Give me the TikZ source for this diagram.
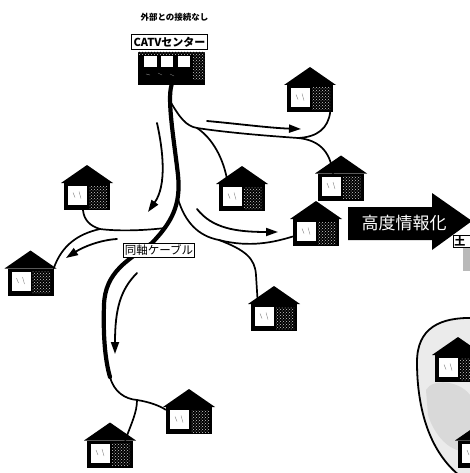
\documentclass[tikz,border=0pt]{standalone}
\usepackage{fontspec}
\setmainfont{Noto Sans CJK JP}
\usetikzlibrary{arrows.meta, positioning, backgrounds, patterns}

\begin{document}
\begin{tikzpicture}[x=1pt, y=-1pt, >={Triangle[length=12pt, width=8pt]},
  cable/.style={line width=1.7pt, line cap=round},
  trunk/.style={line width=4.2pt, line cap=round},
  flow/.style={->, line width=1.8pt, line cap=round},
  stipple/.style={pattern=crosshatch dots, pattern color=white!80!black},
  tag/.style={draw, fill=white, line width=0.9pt},
  house/.pic={
    \node[fill=black, minimum width=46pt, minimum height=27pt, inner sep=0pt] (-body) at (0,0) {};
    \fill (-26,-13.5) -- (0,-31.5) -- (26,-13.5) -- cycle;
    \fill[white] (-19,-10.5) rectangle (0,8.5);
    \fill[stipple] (2,-10.5) rectangle (20,11.5);
    \draw[gray, line width=0.4pt] (-14,-4) -- (-12,1) (-8,-5) -- (-6,2);
  }]
\useasboundingbox (0,0) rectangle (470,473);
\clip (0,0) rectangle (470,473);

% Service area on the right
\fill[gray!16] (474,318) .. controls (440,317) and (417,328) .. (417,362) .. controls (417,410) and (430,452) .. (460,476) -- (474,476) -- cycle;
\fill[gray!30] (426,390) .. controls (432,378) and (462,380) .. (472,398) -- (472,450) .. controls (455,456) and (436,440) .. (428,415) -- cycle;
\draw[line width=1.8pt] (474,318) .. controls (440,317) and (417,328) .. (417,362) .. controls (417,410) and (430,452) .. (460,476);

% Head end
\node[fill=black, minimum width=67pt, minimum height=33pt, inner sep=0pt] (catv) at (171.5,68.5) {};
\fill[stipple] (138,52) rectangle (205,55);
\foreach \wx/\ww in {144/13, 161/12, 178/12}
  \fill[white] (\wx,56) rectangle ++(\ww,11);
\fill[stipple] (193,56) rectangle (204,80);
\draw[gray, line width=0.4pt] (146,74) -- (150,75) (158,73) -- (162,75) (170,74) -- (174,76);
\node[tag, line width=1.1pt, inner sep=2.5pt, font=\bfseries\fontsize{11}{11}\selectfont, above=1.5pt of catv, xshift=-2pt] (catvlabel) {CATVセンター};
\node[font=\bfseries\fontsize{8.5}{9}\selectfont, above=9pt of catvlabel, xshift=5pt] (closed) {外部との接続なし};

% Houses
\pic (h1) at (310,98.5) {house};
\pic (h2) at (341,187) {house};
\pic (h3) at (242,197.5) {house};
\pic (h4) at (87,196.5) {house};
\pic (h5) at (316,232.5) {house};
\pic (h6) at (30.5,282) {house};
\pic (h7) at (274,317.5) {house};
\pic (h8) at (189,420.5) {house};
\pic (h9) at (110,454) {house};
\pic (h10) at (458,368.5) {house};
\pic (h11) at (481,454) {house};

% Junctions
\coordinate (j1) at (170,101);
\coordinate (j3) at (197,128);
\coordinate (j2) at (298,138);
\coordinate (j6) at (178,199);
\coordinate (j4) at (219,240);
\coordinate (j7) at (165,228);
\coordinate (j5) at (100,229);
\coordinate (jm) at (110,377);
\coordinate (jb) at (137,400);

\begin{pgfonlayer}{background}
% Coaxial trunk
\draw[trunk] (catv.south) .. controls (167,100) and (174,140) .. (178,175)
  .. controls (181,205) and (172,222) .. (152,243)
  .. controls (128,260) and (105,272) .. (104,305)
  .. controls (103,335) and (105,360) .. (jm);
% Branch lines
\draw[cable] (j1) .. controls (180,118) and (186,126) .. (j3)
  .. controls (230,133) and (270,136) .. (j2)
  .. controls (318,140) and (330,150) .. ([xshift=-8pt]h2-body.north);
\draw[cable] (j2) .. controls (318,137) and (328,128) .. ([xshift=-3pt]h1-body.south east);
\draw[cable] (j3) .. controls (212,138) and (224,158) .. ([xshift=9pt]h3-body.north west);
\draw[cable] (j6) .. controls (185,222) and (198,236) .. (j4)
  .. controls (250,248) and (275,242) .. ([yshift=-4pt]h5-body.west);
\draw[cable] (j4) .. controls (245,250) and (255,258) .. (256,275) -- ([xshift=7pt]h7-body.north west);
\draw[cable] (j7) .. controls (140,231) and (115,231) .. (j5)
  .. controls (90,226) and (84,220) .. ([xshift=-4pt]h4-body.south);
\draw[cable] (j5) .. controls (78,234) and (62,245) .. (h6-body.north east);
\draw[cable] (jm) .. controls (114,392) and (125,399) .. (jb)
  .. controls (150,402) and (160,406) .. ([yshift=-3pt]h8-body.north west);
\draw[cable] (jb) .. controls (137,412) and (132,422) .. ([xshift=-8pt]h9-body.north east);
\end{pgfonlayer}

% Signal direction
\draw[flow] (157,123) .. controls (163,150) and (167,185) .. (148,212);
\draw[flow] (207,121) .. controls (240,124) and (270,128) .. (301,129);
\draw[flow] (197,209) .. controls (212,228) and (235,232) .. (278,232);
\draw[flow] (117,239) .. controls (100,240) and (83,247) .. (66,258);
\draw[flow] (137,273) .. controls (120,290) and (115,310) .. (115,354);

\node[tag, inner sep=1.5pt, font=\fontsize{11.5}{11.5}\selectfont] (coax) at (159,250.5) {同軸ケーブル};

% Upgrade arrow
\fill (348,207) -- (432,207) -- (432,193) -- (472,221) -- (432,250) -- (432,240) -- (348,240) -- cycle;
\node[text=white, font=\fontsize{17}{17}\selectfont] (advance) at (404,223) {高度情報化};
\node[tag, anchor=west, inner sep=1pt, text width=30pt, font=\bfseries\fontsize{11}{11}\selectfont] (land) at (453,241) {土};
\fill[gray!55] (463,248) rectangle (472,271);
\end{tikzpicture}
\end{document}
